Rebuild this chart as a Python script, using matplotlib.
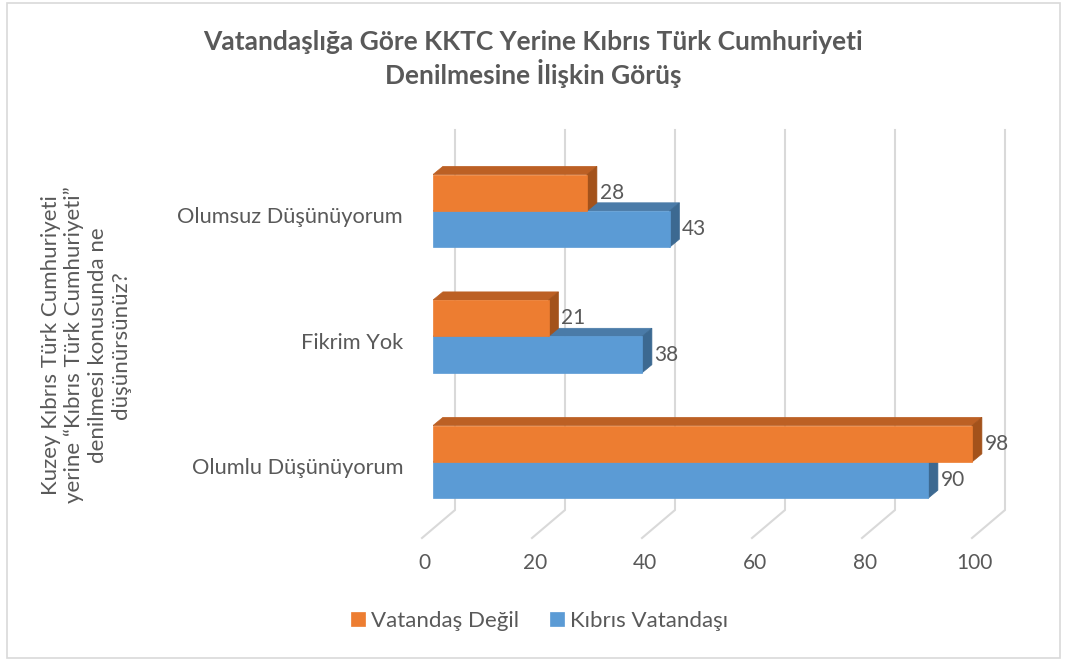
import matplotlib.pyplot as plt
from matplotlib.patches import Polygon, Rectangle

# survey answers, bottom row first
categories = ['Olumlu Düşünüyorum', 'Fikrim Yok', 'Olumsuz Düşünüyorum']
vatandas_degil = [98, 21, 28]
kibris_vatandasi = [90, 38, 43]
series_names = ['Vatandaş Değil', 'Kıbrıs Vatandaşı']
x_ticks = [0, 20, 40, 60, 80, 100]

title = 'Vatandaşlığa Göre KKTC Yerine Kıbrıs Türk Cumhuriyeti\nDenilmesine İlişkin Görüş'
y_title = ('Kuzey Kıbrıs Türk Cumhuriyeti\nyerine “Kıbrıs Türk Cumhuriyeti”\n'
           'denilmesi konusunda ne\ndüşünürsünüz?')

# front / top / side shades
ORANGE = ('#ED7D31', '#BC6024', '#A3521B')
BLUE = ('#5B9BD5', '#4A7BA8', '#3C6991')
TEXT = '#595959'
GRID = '#D9D9D9'

# fake 3D: offsets in data units
BAR_H = 0.29
BAR_DX, BAR_DY = 1.8, 0.065
FLOOR_DX, FLOOR_DY = 6.0, 0.223
FLOOR_X0, FLOOR_Y0 = -2.0, -0.606
WALL_TOP = 2.645

plt.rcParams['font.family'] = ['Lato', 'DejaVu Sans']

fig = plt.figure(figsize=(10.65, 6.64), dpi=100)
ax = fig.add_axes([433 / 1065, (664 - 538) / 664, 550 / 1065, (538 - 130) / 664])
ax.set_xlim(0, 100)
ax.set_ylim(FLOOR_Y0, WALL_TOP)
ax.axis('off')

# floor diagonals and back wall gridlines
for v in x_ticks:
    x0 = v + FLOOR_X0
    x1 = x0 + FLOOR_DX
    y1 = FLOOR_Y0 + FLOOR_DY
    ax.plot([x0, x1, x1], [FLOOR_Y0, y1, WALL_TOP], color=GRID, lw=1.5,
            zorder=1, clip_on=False, solid_joinstyle='miter')
    ax.text(v - 1.5, -0.805, str(v), ha='center', va='center',
            fontsize=15, color=TEXT, clip_on=False)


def bar3d(y_bottom, value, shades, z):
    front, top, side = shades
    y_top = y_bottom + BAR_H
    bars = ax.barh(y_bottom + BAR_H / 2, value, height=BAR_H, color=front,
                   edgecolor=front, lw=0.5, zorder=z + 1)
    ax.add_patch(Polygon([(0, y_top), (value, y_top),
                          (value + BAR_DX, y_top + BAR_DY), (BAR_DX, y_top + BAR_DY)],
                         closed=True, fc=top, ec=top, lw=0.5, zorder=z))
    ax.add_patch(Polygon([(value, y_bottom), (value, y_top),
                          (value + BAR_DX, y_top + BAR_DY),
                          (value + BAR_DX, y_bottom + BAR_DY)],
                         closed=True, fc=side, ec=side, lw=0.5, zorder=z,
                         clip_on=False))
    ax.text(value + BAR_DX + 0.5, y_bottom + BAR_H / 2, str(value),
            ha='left', va='center', fontsize=15, color=TEXT, clip_on=False)
    return bars


for i, name in enumerate(categories):
    blue_bars = bar3d(i - BAR_H, kibris_vatandasi[i], BLUE, 2)
    orange_bars = bar3d(i, vatandas_degil[i], ORANGE, 4)
    ax.text(-5.45, i - 0.05, name, ha='right', va='center',
            fontsize=15.7, color=TEXT, clip_on=False)

fig.text(533 / 1065, 1 - 59 / 664, title, ha='center', va='center',
         fontsize=19, fontweight='bold', color=TEXT, linespacing=1.21)
fig.text(86 / 1065, 1 - 345 / 664, y_title, rotation=90, ha='center',
         va='center', multialignment='center', fontsize=16, color=TEXT,
         linespacing=1.22)

fig.legend([orange_bars, blue_bars], series_names, loc='center',
           bbox_to_anchor=(540 / 1065, 1 - 621 / 664), ncol=2, frameon=False,
           handlelength=0.6, handleheight=0.6, handletextpad=0.3,
           columnspacing=1.4, prop={'size': 16}, labelcolor=TEXT)

fig.patches.append(Rectangle((7 / 1065, 6 / 664), 1053 / 1065, 655 / 664,
                             transform=fig.transFigure, fill=False,
                             ec='#D9D9D9', lw=1.2))

fig.savefig('out.png', dpi=100)
